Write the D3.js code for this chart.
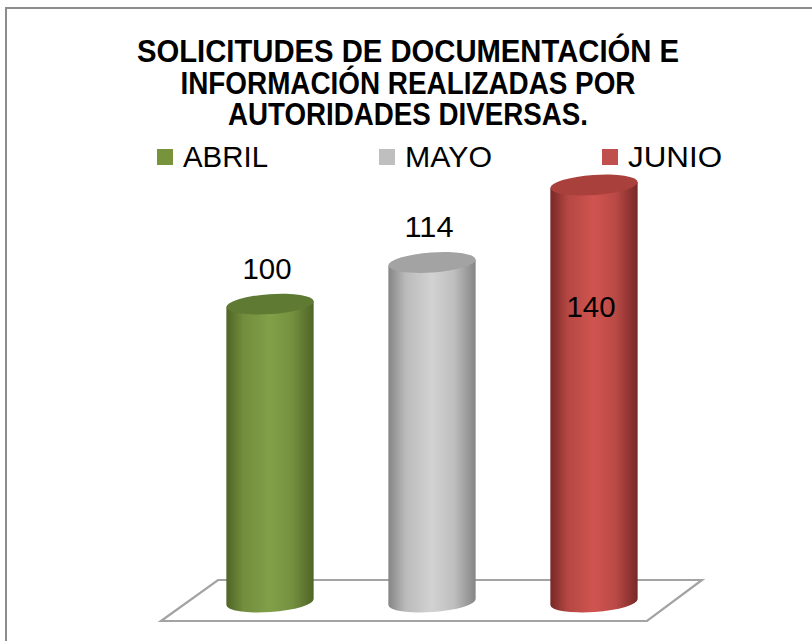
<!DOCTYPE html>
<html>
<head>
<meta charset="utf-8">
<script src="https://cdn.jsdelivr.net/npm/d3@7"></script>
<style>
  body { margin: 0; background: #fff; }
  text { font-family: "Liberation Sans", Arial, sans-serif; }
</style>
</head>
<body>
<div id="chart"></div>
<script>
var months = ["ABRIL", "MAYO", "JUNIO"];
var values = [100, 114, 140];
var titleLines = ["SOLICITUDES DE DOCUMENTACIÓN E", "INFORMACIÓN REALIZADAS POR", "AUTORIDADES DIVERSAS."];
// dark edge, light centre, top face, legend key
var colors = [
    {edge: "#4f6526", mid: "#81a048", top: "#5e7a33", key: "#77933c"},
    {edge: "#858585", mid: "#d2d2d2", top: "#a3a3a3", key: "#bfbfbf"},
    {edge: "#772826", mid: "#d0544f", top: "#a9403c", key: "#c0504d"}
];

var width = 812, height = 641;
var svg = d3.select("#chart")
            .append("svg")
            .attr("width", width)
            .attr("height", height);

svg.append("rect")
   .attr("x", 6).attr("y", 8)
   .attr("width", 830).attr("height", 660)
   .attr("fill", "#fff")
   .attr("stroke", "#8c8c8c")
   .attr("stroke-width", 2);

// title
var titleWidths = [542, 455, 360];
svg.append("g")
   .selectAll("text")
   .data(titleLines)
   .enter()
   .append("text")
   .attr("x", 408)
   .attr("y", (d, i) => 62 + i * 31.5)
   .attr("text-anchor", "middle")
   .attr("font-size", 30.5)
   .attr("font-weight", "bold")
   .attr("textLength", (d, i) => titleWidths[i])
   .attr("lengthAdjust", "spacingAndGlyphs")
   .attr("fill", "#000")
   .text(d => d);

// legend
var legendX = [157, 379, 602];
var legendW = [85, 87, 94];
var legend = svg.append("g")
                .selectAll("g")
                .data(months)
                .enter()
                .append("g")
                .attr("transform", (d, i) => "translate(" + legendX[i] + ",0)");
legend.append("rect")
      .attr("x", 0).attr("y", 149)
      .attr("width", 16).attr("height", 16)
      .attr("fill", (d, i) => colors[i].key);
legend.append("text")
      .attr("x", 26).attr("y", 167)
      .attr("font-size", 30)
      .attr("textLength", (d, i) => legendW[i])
      .attr("lengthAdjust", "spacingAndGlyphs")
      .text(d => d);

// scales
var xScale = d3.scaleBand()
               .domain(months)
               .range([189, 675]);
var yScale = d3.scaleLinear()
               .domain([0, 140])
               .range([602, 185]);

// floor
var x0 = xScale.range()[0], x1 = xScale.range()[1];
var yTop = 580, yBot = 621;
svg.append("path")
   .attr("d", "M" + (x0 - 28) + "," + yBot + "L" + (x1 - 28) + "," + yBot +
              "L" + (x1 + 27) + "," + yTop + "L" + (x0 + 29) + "," + yTop + "Z")
   .attr("fill", "#fff")
   .attr("stroke", "#a3a3a3")
   .attr("stroke-width", 2.2);

// gradients
var defs = svg.append("defs");
colors.forEach(function(c, i) {
    var g = defs.append("linearGradient")
                .attr("id", "grad" + i)
                .attr("x1", "0%").attr("x2", "100%")
                .attr("y1", "0%").attr("y2", "0%");
    g.append("stop").attr("offset", "0%").attr("stop-color", c.edge);
    g.append("stop").attr("offset", "20%").attr("stop-color", d3.interpolateRgb(c.edge, c.mid)(0.7));
    g.append("stop").attr("offset", "50%").attr("stop-color", c.mid);
    g.append("stop").attr("offset", "75%").attr("stop-color", d3.interpolateRgb(c.edge, c.mid)(0.75));
    g.append("stop").attr("offset", "100%").attr("stop-color", c.edge);
});

var barW = xScale.bandwidth() * 0.54;
var rx = barW / 2, ry = 10, tilt = -4;
var dy = rx * Math.sin(-tilt * Math.PI / 180);
var dx = rx * Math.cos(-tilt * Math.PI / 180);

var bars = svg.append("g")
              .selectAll("g")
              .data(months)
              .enter()
              .append("g");

bars.append("path")
    .attr("fill", (d, i) => "url(#grad" + i + ")")
    .attr("d", function(d, i) {
        var cx = xScale(d) + xScale.bandwidth() / 2;
        var top = yScale(values[i]), base = yScale(0);
        return "M" + (cx - dx) + "," + (top + dy) +
               "L" + (cx - dx) + "," + (base + dy) +
               "A" + rx + "," + ry + " " + tilt + " 0 0 " + (cx + dx) + "," + (base - dy) +
               "L" + (cx + dx) + "," + (top - dy) + "Z";
    });

bars.append("ellipse")
    .attr("cx", 0).attr("cy", 0)
    .attr("rx", rx).attr("ry", ry)
    .attr("fill", (d, i) => colors[i].top)
    .attr("transform", function(d, i) {
        var cx = xScale(d) + xScale.bandwidth() / 2;
        return "translate(" + cx + "," + yScale(values[i]) + ") rotate(" + tilt + ")";
    });

// data labels (the tallest one sits inside its bar)
bars.append("text")
    .attr("x", d => xScale(d) + xScale.bandwidth() / 2 - 3)
    .attr("y", function(d, i) {
        var top = yScale(values[i]);
        return top - 30 < 200 ? top + 132 : top - 25;
    })
    .attr("text-anchor", "middle")
    .attr("font-size", 29)
    .attr("textLength", 49)
    .attr("lengthAdjust", "spacingAndGlyphs")
    .attr("fill", "#000")
    .text((d, i) => values[i]);
</script>
</body>
</html>
